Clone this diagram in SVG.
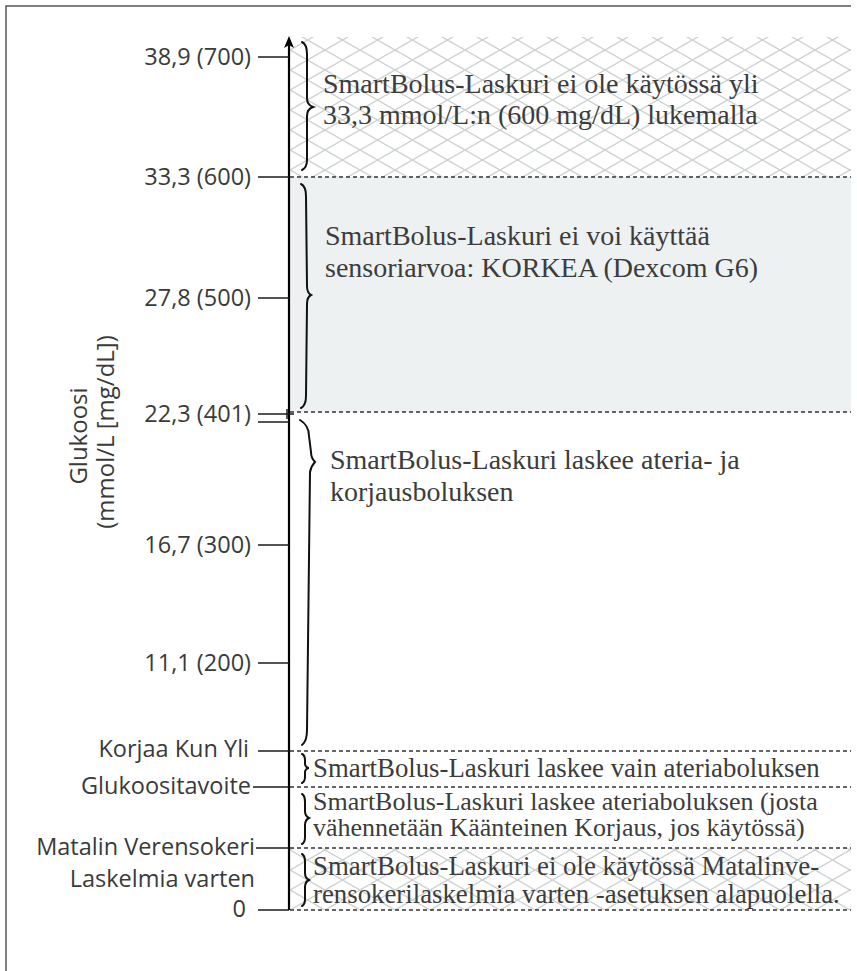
<svg xmlns="http://www.w3.org/2000/svg" width="857" height="971" viewBox="0 0 857 971">
<defs>
<pattern id="hatch" patternUnits="userSpaceOnUse" x="290" y="30" width="35" height="20">
<path d="M0,0 L35,20 M0,20 L35,0" stroke="#cdd1d1" stroke-width="1.4" fill="none"/>
</pattern>
<style>
.lbl{font-family:"Open Sans","Liberation Sans",sans-serif;font-size:23.5px;fill:#3a3a3a;text-anchor:end}
.ax{font-family:"Open Sans","Liberation Sans",sans-serif;font-size:24px;fill:#3a3a3a;text-anchor:middle}
.txt{font-family:"Liberation Serif","Times New Roman",serif;font-size:28px;fill:#3c3c3c}
.txs{font-family:"Liberation Serif","Times New Roman",serif;font-size:26.8px;fill:#3c3c3c}
.txr{font-family:"Liberation Serif","Times New Roman",serif;font-size:26px;fill:#3c3c3c}
.tick{stroke:#1a1a1a;stroke-width:1.5;fill:none}
.dash{stroke:#333;stroke-width:1.5;stroke-dasharray:4 3;fill:none}
.brace{stroke:#111;stroke-width:2;fill:none;stroke-linecap:round}
</style>
</defs>
<g id="frame">
<path d="M6,971 L6,6 L851,6" stroke="#555" stroke-width="1.5" fill="none"/>
</g>
<g id="regions">
<rect x="290" y="37" width="561" height="140" fill="url(#hatch)"/>
<rect x="290" y="177" width="561" height="235" fill="#eef1f1"/>
<rect x="290" y="848" width="561" height="62" fill="url(#hatch)"/>
</g>
<g id="connectors">
<line class="dash" x1="290" y1="177" x2="851" y2="177"/>
<line class="dash" x1="290" y1="412" x2="851" y2="412"/>
<line class="dash" x1="290" y1="751" x2="851" y2="751"/>
<line class="dash" x1="290" y1="787" x2="851" y2="787"/>
<line class="dash" x1="290" y1="848" x2="851" y2="848"/>
<line class="dash" x1="290" y1="910" x2="851" y2="910"/>
<line x1="289" y1="910" x2="289" y2="44" stroke="#000" stroke-width="2.2"/>
<polygon points="289,36 284,48 289,45 294,48" fill="#000"/>
<line class="tick" x1="258" y1="57" x2="289" y2="57"/>
<line class="tick" x1="258" y1="177" x2="289" y2="177"/>
<line class="tick" x1="258" y1="298" x2="289" y2="298"/>
<line class="tick" x1="258" y1="414" x2="294" y2="414"/>
<line class="tick" x1="258" y1="422" x2="289" y2="422"/>
<line class="tick" x1="287" y1="409" x2="287" y2="419"/>
<line class="tick" x1="258" y1="545" x2="289" y2="545"/>
<line class="tick" x1="258" y1="663" x2="289" y2="663"/>
<line class="tick" x1="258" y1="751" x2="289" y2="751"/>
<line class="tick" x1="253" y1="787" x2="289" y2="787"/>
<line class="tick" x1="256" y1="848" x2="289" y2="848"/>
<line class="tick" x1="258" y1="910" x2="289" y2="910"/>
</g>
<g id="braces">
<path class="brace" d="M302,42 C306,44 307,48 307,54 L307,98 C307,103 310,106 313,107 C310,108 307,111 307,116 L307,160 C307,165 306,168 302,170"/>
<path class="brace" d="M301,184 C305,186 306,190 306,196 L307,286 C307,291 309,294 311,295 C309,296 307,299 307,304 L306,396 C306,402 305,406 301,408"/>
<path class="brace" d="M300,420 C305,423 309,428 309,436 L311,452 C311,457 313,460 315,462 C313,464 311,467 310,472 L307,730 C307,737 306,742 302,745"/>
<path class="brace" d="M302,754 C304,755 305,757 305,760 L305,764 C305,766 307,768 309,768 C307,768 305,770 305,772 L305,777 C305,780 304,782 302,783"/>
<path class="brace" d="M302,794 C304,795 305,798 305,802 L305,811 C305,815 307,817 309,818 C307,819 305,821 305,825 L305,837 C305,841 304,843 302,844"/>
<path class="brace" d="M302,854 C304,855 305,858 305,862 L305,873 C305,877 307,879 309,880 C307,881 305,883 305,887 L305,899 C305,903 304,905 302,906"/>
</g>
<g id="axis-labels">
<text class="lbl" x="251" y="65">38,9 (700)</text>
<text class="lbl" x="251" y="185">33,3 (600)</text>
<text class="lbl" x="251" y="306">27,8 (500)</text>
<text class="lbl" x="251" y="422">22,3 (401)</text>
<text class="lbl" x="251" y="553">16,7 (300)</text>
<text class="lbl" x="251" y="671">11,1 (200)</text>
<text class="lbl" x="249" y="757">Korjaa Kun Yli</text>
<text class="lbl" x="251" y="794">Glukoositavoite</text>
<text class="lbl" x="255" y="855">Matalin Verensokeri</text>
<text class="lbl" x="255" y="887">Laskelmia varten</text>
<text class="lbl" x="246" y="917">0</text>
<text class="ax" transform="translate(87,436) rotate(-90)">Glukoosi</text>
<text class="ax" transform="translate(114,432) rotate(-90)">(mmol/L [mg/dL])</text>
</g>
<g id="node-top">
<text class="txt" x="323" y="93">SmartBolus-Laskuri ei ole käytössä yli</text>
<text class="txt" x="323" y="124">33,3 mmol/L:n (600 mg/dL) lukemalla</text>
</g>
<g id="node-high">
<text class="txt" x="325" y="245">SmartBolus-Laskuri ei voi käyttää</text>
<text class="txt" x="325" y="277">sensoriarvoa: KORKEA (Dexcom G6)</text>
</g>
<g id="node-full">
<text class="txt" x="330" y="469">SmartBolus-Laskuri laskee ateria- ja</text>
<text class="txt" x="330" y="501">korjausboluksen</text>
</g>
<g id="node-meal">
<text class="txs" x="313" y="777">SmartBolus-Laskuri laskee vain ateriaboluksen</text>
</g>
<g id="node-reverse">
<text class="txr" x="313" y="810">SmartBolus-Laskuri laskee ateriaboluksen (josta</text>
<text class="txr" x="313" y="836">vähennetään Käänteinen Korjaus, jos käytössä)</text>
</g>
<g id="node-low">
<text class="txs" x="313" y="875">SmartBolus-Laskuri ei ole käytössä Matalinve-</text>
<text class="txs" x="313" y="903">rensokerilaskelmia varten -asetuksen alapuolella.</text>
</g>
</svg>
